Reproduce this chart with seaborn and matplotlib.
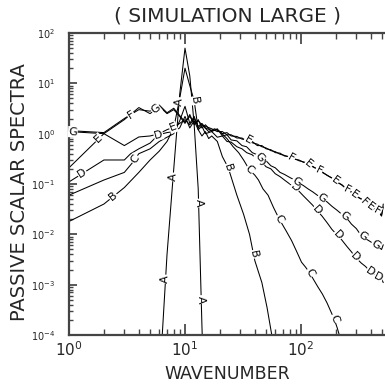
import numpy as np
import pandas as pd
import matplotlib
matplotlib.use('Agg')
import matplotlib.pyplot as plt
import seaborn as sns

sns.set_theme(style='ticks')
plt.rcParams['font.family'] = ['DejaVu Sans']

# spectra (wavenumber, spectrum)
A_k = [6, 7, 8, 9, 10, 11, 12, 13, 14, 15]
A_e = [1e-5, 4e-3, 0.2, 6.0, 50.0, 14.0, 1.5, 0.08, 1.5e-4, 1e-6]

B_k = [1, 2, 3, 4, 5, 6, 7, 8, 9, 10, 11, 12, 13, 14, 15, 16, 17, 19, 21, 23.6,
       28, 32, 36, 40, 46, 51, 56, 60]
B_e = [0.018, 0.04, 0.085, 0.17, 0.3, 0.45, 0.7, 1.3, 5.0, 20.0, 9.0, 4.5, 1.2, 0.9,
       1.1, 0.8, 0.9, 0.7, 0.35, 0.21, 0.06, 0.025, 0.01, 0.003, 0.0011, 3.5e-4, 1e-4, 4e-5]

C_k = [1, 2, 3, 3.5, 4, 5, 6, 7, 8, 9, 10, 11, 12, 13, 14, 16, 18, 20, 23, 26, 29, 32,
       36, 40, 43, 47, 52, 58, 65, 74, 83, 92, 101, 110, 119, 130, 140, 153, 168, 180,
       193, 205, 214, 230]
C_e = [0.06, 0.12, 0.17, 0.26, 0.4, 0.5, 0.7, 0.85, 1.0, 1.8, 3.5, 1.6, 2.2, 1.3, 1.5,
       1.1, 1.25, 1.1, 0.8, 0.55, 0.42, 0.3, 0.19, 0.15, 0.12, 0.08, 0.06, 0.034, 0.02,
       0.012, 0.0075, 0.0045, 0.0028, 0.0022, 0.0017, 0.0012, 9e-4, 6.5e-4, 4.3e-4,
       3e-4, 2.1e-4, 1.4e-4, 1e-4, 6e-5]

D_k = [1, 2, 3, 3.4, 4, 5, 5.9, 7, 8, 9, 10, 11, 12, 13, 14, 15, 17, 19, 21, 23, 25,
       28, 31, 34, 38, 42, 46, 50, 55, 60, 66, 72, 80, 88, 96, 105, 115, 126, 137, 152,
       168, 185, 205, 225, 248, 272, 295, 330, 360, 398, 430, 465, 495, 512]
D_e = [0.11, 0.3, 0.3, 0.4, 0.5, 0.65, 0.95, 1.05, 1.1, 1.3, 2.2, 1.3, 1.8, 1.2, 1.4,
       1.0, 1.1, 0.85, 0.9, 0.7, 0.68, 0.55, 0.5, 0.42, 0.38, 0.3, 0.27, 0.22, 0.2, 0.16,
       0.14, 0.12, 0.1, 0.086, 0.072, 0.058, 0.047, 0.038, 0.03, 0.023, 0.017, 0.0125,
       0.0097, 0.0077, 0.0058, 0.0045, 0.0035, 0.0027, 0.0023, 0.0018, 0.0016, 0.0014,
       0.0013, 0.0011]

E_k = [1, 2, 3, 4, 5, 6, 7, 8, 9, 10, 11, 12, 13, 14, 15, 17, 19, 21, 23, 25, 28, 31,
       34, 38, 42, 46, 50, 55, 60, 66, 72, 80, 88, 96, 105, 115, 126, 138, 152, 168, 185,
       205, 225, 248, 272, 300, 330, 360, 395, 430, 465, 495, 512]
E_e = [0.21, 1.0, 0.58, 0.86, 0.9, 1.0, 1.2, 1.35, 1.6, 1.9, 1.5, 2.0, 1.4, 1.6, 1.3,
       1.15, 1.2, 1.0, 1.05, 0.9, 0.88, 0.78, 0.76, 0.66, 0.62, 0.55, 0.52, 0.46, 0.44,
       0.39, 0.37, 0.34, 0.32, 0.29, 0.275, 0.26, 0.22, 0.2, 0.17, 0.15, 0.13, 0.11,
       0.095, 0.08, 0.068, 0.058, 0.05, 0.043, 0.037, 0.032, 0.028, 0.024, 0.035]

F_k = [1, 2, 3, 4, 5, 6, 7, 8, 9, 10, 11, 12, 13, 14, 15, 17, 19, 21, 23, 25, 28, 31,
       34, 38, 42, 46, 50, 55, 60, 66, 72, 80, 88, 96, 105, 115, 126, 138, 152, 168, 185,
       205, 225, 248, 272, 300, 330, 360, 395, 430, 465, 495, 512]
F_e = [1.15, 1.05, 2.0, 3.0, 2.8, 3.7, 2.6, 3.2, 2.3, 1.7, 2.2, 1.6, 1.8, 1.5, 1.4,
       1.25, 1.1, 1.1, 0.95, 0.95, 0.82, 0.82, 0.7, 0.7, 0.58, 0.58, 0.5, 0.48, 0.42,
       0.41, 0.36, 0.35, 0.31, 0.3, 0.27, 0.25, 0.225, 0.195, 0.175, 0.148, 0.132, 0.108,
       0.097, 0.078, 0.07, 0.056, 0.051, 0.042, 0.038, 0.031, 0.028, 0.023, 0.04]

G_k = [1, 2, 3, 4, 5, 6, 7, 8, 9, 10, 11, 12, 13, 14, 15, 17, 19, 21, 23, 25, 28, 31,
       34, 38, 42, 46, 50, 55, 60, 66, 72, 80, 88, 96, 105, 115, 126, 138, 152, 168, 185,
       205, 225, 248, 272, 300, 330, 360, 395, 430, 465, 495, 512]
G_e = [1.1, 1.0, 1.9, 3.3, 2.5, 3.5, 2.5, 3.0, 2.2, 1.6, 2.4, 1.5, 1.9, 1.3, 1.5, 1.1,
       1.25, 0.9, 0.95, 0.75, 0.72, 0.58, 0.55, 0.42, 0.38, 0.3, 0.29, 0.23, 0.21, 0.17,
       0.155, 0.135, 0.12, 0.105, 0.093, 0.08, 0.07, 0.06, 0.052, 0.044, 0.036, 0.03,
       0.025, 0.021, 0.016, 0.013, 0.0095, 0.0082, 0.0072, 0.0063, 0.0056, 0.005, 0.0062]

curves = {'A': (A_k, A_e), 'B': (B_k, B_e), 'C': (C_k, C_e), 'D': (D_k, D_e),
          'E': (E_k, E_e), 'F': (F_k, F_e), 'G': (G_k, G_e)}

x_ticks = [1, 10, 100]
y_ticks = [1e-4, 1e-3, 1e-2, 1e-1, 1, 10, 100]

# where the curve letters sit (wavenumber along each curve)
label_spots = {
    'A': [6.8, 7.9, 8.9, 13.1, 13.8],
    'B': [2.4, 12, 23.6, 39],
    'C': [3.7, 36, 65, 119, 193],
    'D': [1.3, 5.9, 45, 89, 137, 207, 295, 398, 465],
    'E': [1.8, 7.9, 35, 117, 197, 290, 400],
    'F': [3.4, 83, 143, 250, 352, 455],
    'G': [1.08, 5.6, 44, 92, 152, 237, 339, 440],
}

fig = plt.figure(figsize=(3.85, 3.88), dpi=100)
ax = fig.add_axes([69 / 385, 53 / 388, 316 / 385, 302 / 388])

for name, (k, e) in curves.items():
    sns.lineplot(x=k, y=e, color='black', linewidth=0.75, estimator=None,
                 sort=False, ax=ax)

ax.set_xscale('log')
ax.set_yscale('log')
ax.set_xticks(x_ticks)
ax.set_yticks(y_ticks)
ax.set_xlim(1, 530)
ax.set_ylim(1e-4, 1e2)

# letters along the curves, line broken under them
for name, (k, e) in curves.items():
    lk, le = np.log10(k), np.log10(e)
    for s in label_spots[name]:
        y = 10 ** np.interp(np.log10(s), lk, le)
        s2 = s * 1.01
        y2 = 10 ** np.interp(np.log10(s2), lk, le)
        p0 = ax.transData.transform((s, y))
        p1 = ax.transData.transform((s2, y2))
        ang = np.degrees(np.arctan2(p1[1] - p0[1], p1[0] - p0[0]))
        if ang > 90:
            ang -= 180
        if ang < -90:
            ang += 180
        ax.text(s, y, name, rotation=ang, rotation_mode='anchor', ha='center',
                va='center', fontsize=8, color='black', zorder=5,
                bbox=dict(boxstyle='square,pad=0.05', fc='white', ec='none'))

for side in ['left', 'bottom', 'top']:
    ax.spines[side].set_color('#444444')
    ax.spines[side].set_linewidth(1.6)
ax.spines['right'].set_visible(False)

ax.tick_params(which='both', direction='in', top=True, right=False, color='#444444')
ax.tick_params(axis='x', which='major', length=8, labelsize=11, pad=4)
ax.tick_params(axis='x', which='minor', length=4)
ax.tick_params(axis='y', which='major', length=6, labelsize=7, pad=10)
ax.tick_params(axis='y', which='minor', length=3)

ax.set_xlabel('WAVENUMBER', fontsize=12.5)
ax.xaxis.set_label_coords(0.5, -0.1)
ax.set_ylabel('PASSIVE SCALAR SPECTRA', fontsize=14)
ax.yaxis.set_label_coords(-0.125, 0.474)
ax.set_title('( SIMULATION LARGE )', fontsize=14.5, pad=8)

fig.savefig('out.png', dpi=100)
